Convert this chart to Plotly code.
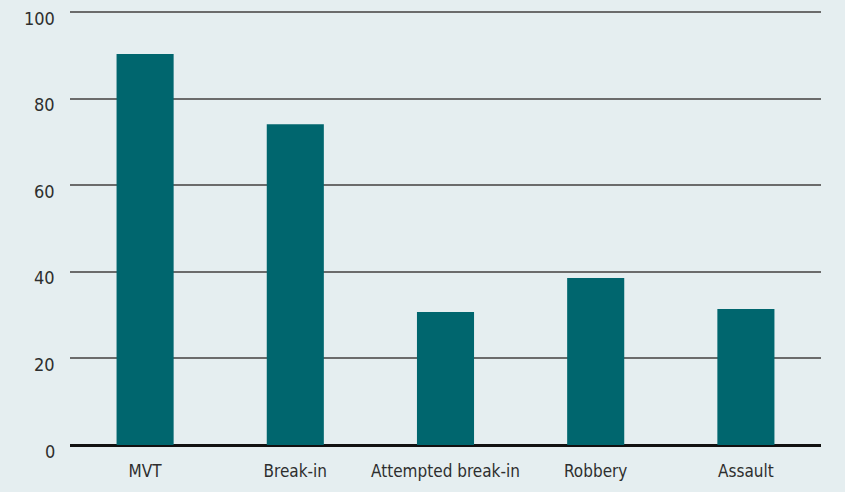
import plotly.graph_objects as go

categories = ["MVT", "Break-in", "Attempted break-in", "Robbery", "Assault"]
values = [90.3, 74.1, 30.7, 38.6, 31.4]
y_ticks = [0, 20, 40, 60, 80, 100]
y_tick_labels = ["0", "20", "40", "60", "80", "100"]

BG = "#e5eef0"
BAR = "#00666e"
FONT = "DejaVu Sans Condensed, Roboto, sans-serif"
TXT = "#2e2e2e"

fig = go.Figure(go.Bar(x=categories, y=values, marker=dict(color=BAR, line=dict(width=0)), width=0.38,
                       hoverinfo="skip"))

fig.update_layout(
    width=845, height=492,
    paper_bgcolor=BG, plot_bgcolor=BG,
    margin=dict(l=70, r=24, t=11, b=47),
    font=dict(family=FONT, size=17, color=TXT),
    showlegend=False,
)
fig.update_xaxes(showgrid=False, showline=False, ticks="", tickfont=dict(size=17, color=TXT),
                 ticklabelstandoff=14)
fig.update_yaxes(range=[0, 100.25], tickvals=y_ticks, showgrid=True, gridcolor="#6b6b6b", gridwidth=1.5,
                 zeroline=True, zerolinecolor="#111111", zerolinewidth=2.5, showline=False,
                 ticks="", showticklabels=False)

for v, lab in zip(y_ticks, y_tick_labels):
    fig.add_annotation(x=0, xref="paper", y=v, yref="y", text=lab, showarrow=False,
                       xanchor="right", yanchor="middle", xshift=-13, yshift=-6,
                       font=dict(family=FONT, size=18, color=TXT))

fig.write_html("out.html", config={"displayModeBar": False})

with open("out.html", encoding="utf-8") as f:
    html = f.read()
html = html.replace("<body>", '<body style="margin:0;padding:0;">', 1)
with open("out.html", "w", encoding="utf-8") as f:
    f.write(html)
